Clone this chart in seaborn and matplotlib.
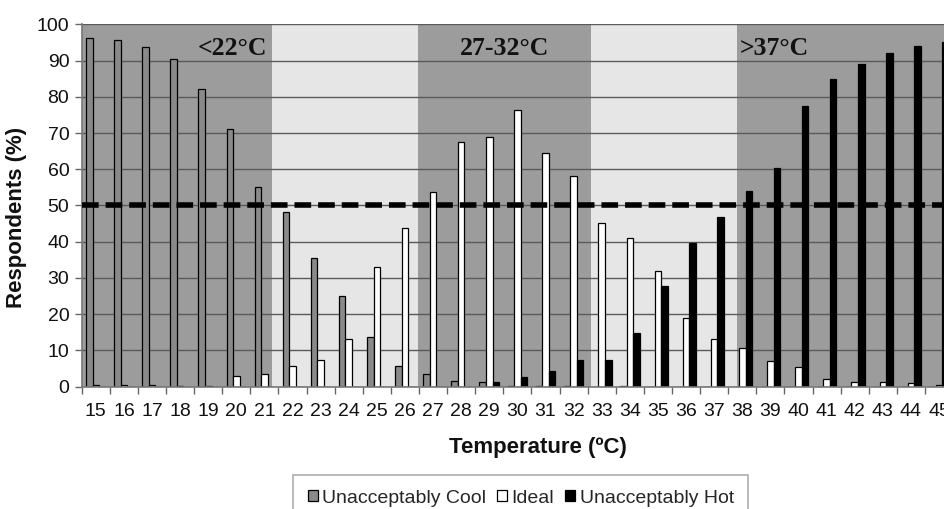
import matplotlib
matplotlib.use("Agg")
import matplotlib.pyplot as plt
import seaborn as sns
import pandas as pd
from matplotlib.ticker import MultipleLocator, FixedLocator

temps = list(range(15, 46))
cool = [96.3, 95.6, 93.6, 90.4, 82.1, 71.0, 55.1, 48.1, 35.5, 25.1, 13.6, 5.7, 3.5, 1.7, 1.4, 0.3,
        0.2, 0.2, 0.0, 0.2, 0.0, 0.0, 0.0, 0.0, 0.0, 0.0, 0.0, 0.0, 0.0, 0.0, 0.0]
ideal = [0.4, 0.4, 0.4, 0.3, 0.3, 2.9, 3.4, 5.7, 7.4, 13.1, 32.9, 43.7, 53.8, 67.6, 68.8, 76.4,
         64.6, 58.1, 45.3, 41.1, 32.0, 18.9, 13.1, 10.8, 7.1, 5.3, 2.0, 1.4, 1.4, 0.9, 0.6]
hot = [0.0, 0.0, 0.0, 0.0, 0.0, 0.0, 0.0, 0.0, 0.0, 0.0, 0.0, 0.0, 0.0, 0.0, 1.4, 2.8,
       4.4, 7.4, 7.4, 14.9, 27.8, 39.6, 46.9, 54.1, 60.4, 77.5, 84.8, 89.0, 92.2, 94.0, 95.2]
series_names = ["Unacceptably Cool", "Ideal", "Unacceptably Hot"]
series_colors = ["#8a8a8a", "#ffffff", "#000000"]

# temperature ranges shaded behind the bars, with their captions
band_edges = [21.26, 26.48, 32.61, 37.81]
band_labels = ["<22°C", "27-32°C", ">37°C"]
threshold = 50

df = pd.DataFrame({
    "Temperature": [str(t) for t in temps] * 3,
    "Respondents": cool + ideal + hot,
    "Response": sum([[n] * len(temps) for n in series_names], []),
})

sns.set_theme(style="white")
plt.rcParams["font.family"] = ["Liberation Sans", "DejaVu Sans"]

fig = plt.figure(figsize=(9.44, 5.09), dpi=100)
ax = fig.add_axes([0.0866, 0.2403, 0.923, 0.712])

dark, light = "#9c9c9c", "#e6e6e6"
x0 = temps[0]
edges = [-0.5] + [e - x0 for e in band_edges] + [len(temps) - 0.5]
for i in range(len(edges) - 1):
    ax.axvspan(edges[i], edges[i + 1], color=dark if i % 2 == 0 else light, lw=0, zorder=0)

ax.set_ylim(0, 100)
ax.yaxis.set_major_locator(MultipleLocator(10))
for v in range(10, 101, 10):
    ax.axhline(v, color="#5a5a5a", lw=1.0, zorder=0.5)

sns.barplot(data=df, x="Temperature", y="Respondents", hue="Response",
            hue_order=series_names, palette=series_colors, width=0.7,
            edgecolor="black", linewidth=0.9, ax=ax, zorder=2, legend=True)

ax.axhline(threshold, color="black", lw=4, dashes=(3.0, 1.25), zorder=3)

ax.set_xlim(-0.5, len(temps) - 0.5)
ax.xaxis.set_minor_locator(FixedLocator([i - 0.5 for i in range(len(temps) + 1)]))
ax.tick_params(axis="x", which="major", length=0, labelsize=14, pad=12, colors="#111111")
ax.tick_params(axis="x", which="minor", length=5, width=1, color="#666666", bottom=True)
ax.tick_params(axis="y", which="major", length=5, width=1, color="#666666", left=True,
               labelsize=14, pad=4, labelcolor="#111111")

for side in ["top", "right"]:
    ax.spines[side].set_visible(False)
for side in ["left", "bottom"]:
    ax.spines[side].set_color("#777777")
    ax.spines[side].set_linewidth(1.2)

ax.set_ylabel("Respondents (%)", fontsize=16, fontweight="bold", color="#111111")
ax.yaxis.set_label_coords(-0.0628, 0.466)
ax.set_xlabel("Temperature (ºC)", fontsize=16, fontweight="bold", color="#111111")
ax.xaxis.set_label_coords(0.523, -0.139)

serif = ["Liberation Serif", "DejaVu Serif"]
ax.text(edges[1] - 0.15, 93.3, band_labels[0], ha="right", va="center", fontsize=18.5,
        fontweight="bold", family=serif, color="#111111", zorder=4)
ax.text((edges[2] + edges[3]) / 2, 93.3, band_labels[1], ha="center", va="center", fontsize=18.5,
        fontweight="bold", family=serif, color="#111111", zorder=4)
ax.text(edges[4] + 0.1, 93.3, band_labels[2], ha="left", va="center", fontsize=18.5,
        fontweight="bold", family=serif, color="#111111", zorder=4)

handles, labels = ax.get_legend_handles_labels()
leg = ax.legend(handles, labels, loc="upper center", bbox_to_anchor=(0.504, -0.244),
                borderaxespad=0, ncol=3, frameon=True, fontsize=14, handlelength=0.5,
                handleheight=0.5, handletextpad=0.25, columnspacing=0.55, borderpad=0.75,
                fancybox=False)
leg.get_frame().set_edgecolor("#999999")
leg.get_frame().set_linewidth(1.2)

fig.savefig("out.png", dpi=100)
